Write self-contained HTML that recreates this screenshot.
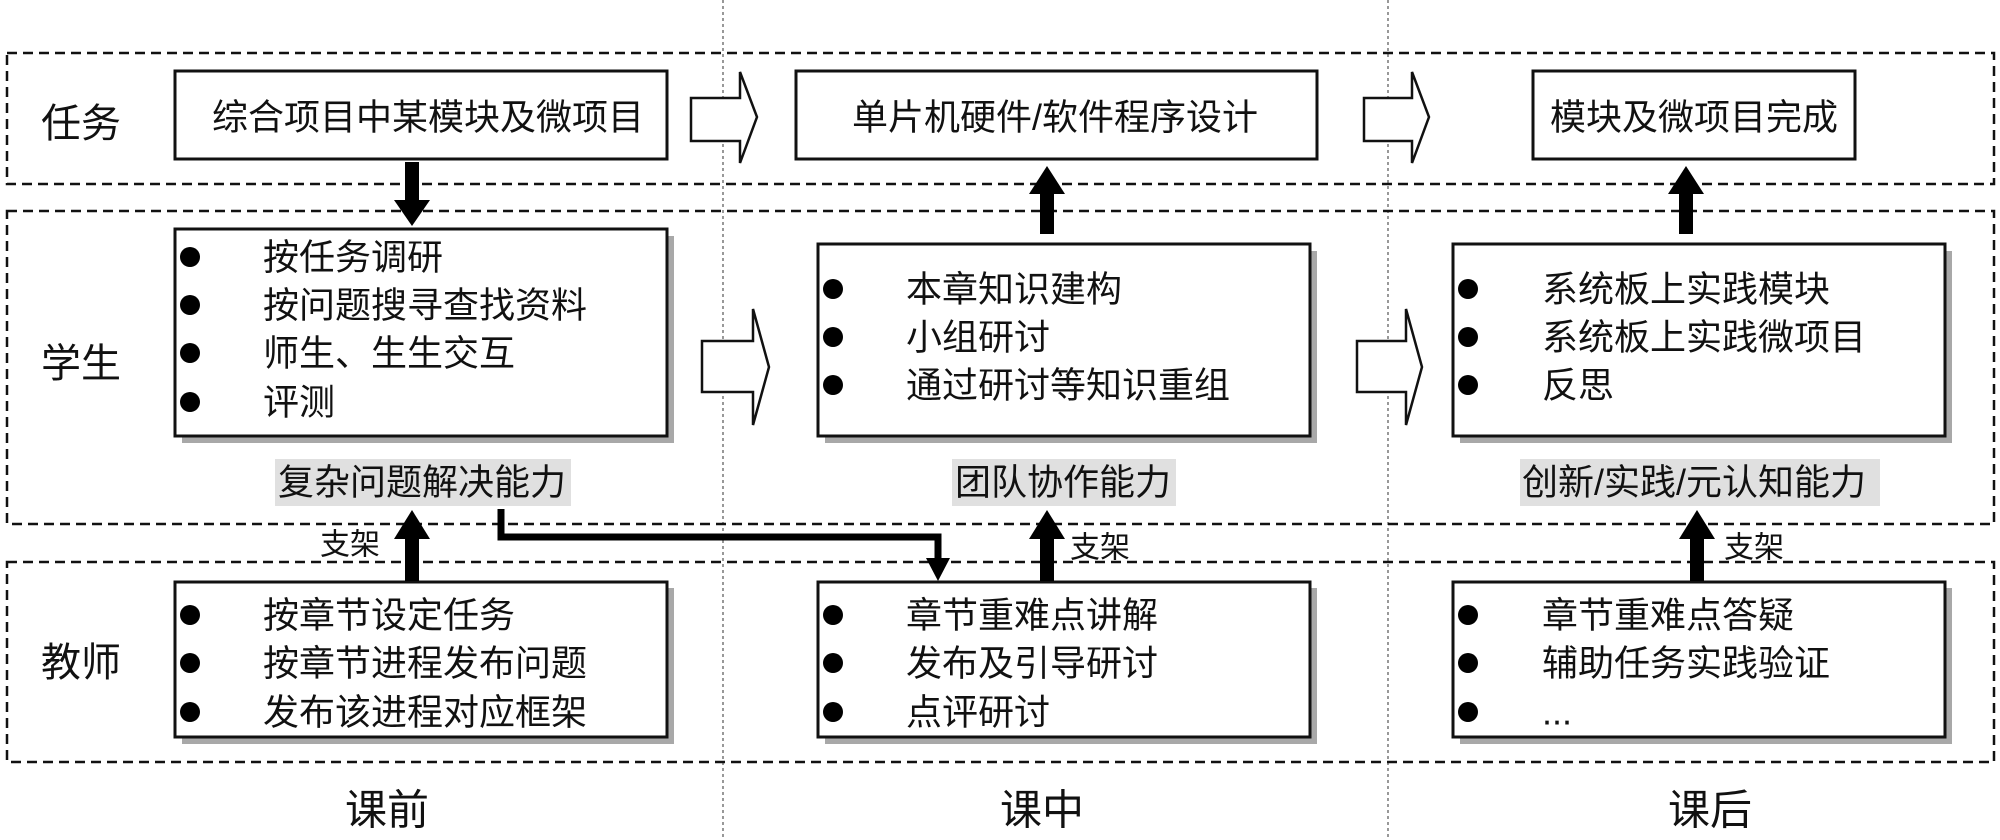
<!DOCTYPE html>
<html><head><meta charset="utf-8"><style>
html,body{margin:0;padding:0;background:#fff;}
svg{display:block;}
text{font-family:"Liberation Sans","Noto Sans CJK SC",sans-serif;fill:#111;}
.t{font-size:36px;dominant-baseline:central;}
.lab{font-size:40px;dominant-baseline:central;}
.ph{font-size:42px;dominant-baseline:central;}
.zj{font-size:30px;dominant-baseline:central;}
</style></head><body>
<svg width="2000" height="840" viewBox="0 0 2000 840" xmlns="http://www.w3.org/2000/svg">
<line x1="723" y1="0" x2="723" y2="840" stroke="#555" stroke-width="1.2" stroke-dasharray="3,3"/>
<line x1="1388" y1="0" x2="1388" y2="840" stroke="#555" stroke-width="1.2" stroke-dasharray="3,3"/>
<g fill="none" stroke="#111" stroke-width="2.5" stroke-dasharray="10,6">
<rect x="7" y="53" width="1987" height="131"/>
<rect x="7" y="211" width="1987" height="313"/>
<rect x="7" y="562" width="1987" height="200"/>
</g>
<text class="lab" x="41" y="124">任务</text>
<text class="lab" x="41" y="364">学生</text>
<text class="lab" x="41" y="663">教师</text>
<g fill="#fff" stroke="#111" stroke-width="3">
<rect x="175" y="71" width="492" height="88"/>
<rect x="796" y="71" width="521" height="88"/>
<rect x="1533" y="71" width="322" height="88"/>
</g>
<text class="t" x="212" y="117">综合项目中某模块及微项目</text>
<text class="t" x="852" y="117">单片机硬件/软件程序设计</text>
<text class="t" x="1550" y="117">模块及微项目完成</text>
<g fill="#a8a8a8">
<rect x="182" y="236" width="492" height="207"/>
<rect x="825" y="251" width="492" height="192"/>
<rect x="1460" y="251" width="492" height="192"/>
<rect x="182" y="588" width="492" height="156"/>
<rect x="825" y="588" width="492" height="156"/>
<rect x="1460" y="588" width="492" height="156"/>
</g>
<g fill="#fff" stroke="#111" stroke-width="3">
<rect x="175" y="229" width="492" height="207"/>
<rect x="818" y="244" width="492" height="192"/>
<rect x="1453" y="244" width="492" height="192"/>
<rect x="175" y="582" width="492" height="155"/>
<rect x="818" y="582" width="492" height="155"/>
<rect x="1453" y="582" width="492" height="155"/>
</g>
<g fill="#000">
<circle cx="190" cy="257" r="10"/><circle cx="190" cy="305" r="10"/><circle cx="190" cy="353" r="10"/><circle cx="190" cy="402" r="10"/>
<circle cx="833" cy="289" r="10"/><circle cx="833" cy="337" r="10"/><circle cx="833" cy="385" r="10"/>
<circle cx="1468" cy="289" r="10"/><circle cx="1468" cy="337" r="10"/><circle cx="1468" cy="385" r="10"/>
<circle cx="190" cy="615" r="10"/><circle cx="190" cy="663" r="10"/><circle cx="190" cy="712" r="10"/>
<circle cx="833" cy="615" r="10"/><circle cx="833" cy="663" r="10"/><circle cx="833" cy="712" r="10"/>
<circle cx="1468" cy="615" r="10"/><circle cx="1468" cy="663" r="10"/><circle cx="1468" cy="712" r="10"/>
</g>
<text class="t" x="263" y="257">按任务调研</text>
<text class="t" x="263" y="305">按问题搜寻查找资料</text>
<text class="t" x="263" y="353">师生、生生交互</text>
<text class="t" x="263" y="402">评测</text>
<text class="t" x="906" y="289">本章知识建构</text>
<text class="t" x="906" y="337">小组研讨</text>
<text class="t" x="906" y="385">通过研讨等知识重组</text>
<text class="t" x="1542" y="289">系统板上实践模块</text>
<text class="t" x="1542" y="337">系统板上实践微项目</text>
<text class="t" x="1542" y="385">反思</text>
<text class="t" x="263" y="615">按章节设定任务</text>
<text class="t" x="263" y="663">按章节进程发布问题</text>
<text class="t" x="263" y="712">发布该进程对应框架</text>
<text class="t" x="906" y="615">章节重难点讲解</text>
<text class="t" x="906" y="663">发布及引导研讨</text>
<text class="t" x="906" y="712">点评研讨</text>
<text class="t" x="1542" y="615">章节重难点答疑</text>
<text class="t" x="1542" y="663">辅助任务实践验证</text>
<text class="t" x="1542" y="712">...</text>
<g fill="#e0e0e0">
<rect x="275" y="459" width="296" height="47"/>
<rect x="952" y="459" width="224" height="47"/>
<rect x="1520" y="459" width="360" height="47"/>
</g>
<text class="t" x="278" y="482">复杂问题解决能力</text>
<text class="t" x="955" y="482">团队协作能力</text>
<text class="t" x="1522" y="482">创新/实践/元认知能力</text>
<g fill="#fff" stroke="#111" stroke-width="2.5">
<polygon points="691,98 740,98 740,72 757,117 740,163 740,141 691,141"/>
<polygon points="1364,98 1412,98 1412,72 1429,117 1412,163 1412,141 1364,141"/>
<polygon points="702,341 753,341 753,309 769,367 753,425 753,392 702,392"/>
<polygon points="1357,341 1406,341 1406,309 1422,367 1406,425 1406,392 1357,392"/>
</g>
<g fill="#000">
<rect x="405" y="162" width="14" height="40"/>
<polygon points="394,200 430,200 412,226"/>
<rect x="1040" y="192" width="14" height="42"/>
<polygon points="1029,194 1065,194 1047,166"/>
<rect x="1679" y="192" width="14" height="42"/>
<polygon points="1668,194 1704,194 1686,166"/>
<rect x="405" y="536" width="14" height="45"/>
<polygon points="394,539 430,539 412,510"/>
<rect x="1040" y="536" width="14" height="45"/>
<polygon points="1029,539 1065,539 1047,510"/>
<rect x="1690" y="536" width="14" height="45"/>
<polygon points="1679,539 1715,539 1697,510"/>
<polygon points="926,558 950,558 938,581"/>
</g>
<polyline points="501,509 501,537 938,537 938,560" fill="none" stroke="#000" stroke-width="7"/>
<text class="zj" x="320" y="545">支架</text>
<text class="zj" x="1070" y="548">支架</text>
<text class="zj" x="1724" y="548">支架</text>
<text class="ph" x="345" y="810">课前</text>
<text class="ph" x="1000" y="810">课中</text>
<text class="ph" x="1668" y="810">课后</text>
</svg>
</body></html>
